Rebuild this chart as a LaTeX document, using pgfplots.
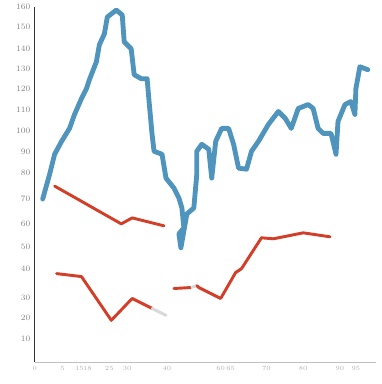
\documentclass[border=0pt]{standalone}
\usepackage{pgfplots}
\pgfplotsset{compat=1.18}
\definecolor{bl}{RGB}{59,136,181}
\definecolor{rd}{RGB}{210,62,40}
\definecolor{lbl}{RGB}{130,130,130}
\begin{document}
\begin{tikzpicture}
\begin{axis}[
  name=ax,
  scale only axis, width=268pt, height=279pt,
  xmin=35, xmax=378, ymin=0, ymax=357,
  axis x line=bottom, axis y line=left,
  x axis line style={-, draw=black!25, line width=0.6pt},
  y axis line style={-, draw=black!80, line width=0.8pt},
  major tick length=0pt,
  ytick={23,45,65,94,116,139,164,190,211,233,254,275,295,315,337,357},
  yticklabels={10,20,30,40,50,60,70,80,90,100,110,120,130,140,150,160},
  xtick={35,63,80,88,110,128,168,222,232,268,305,342,358},
  xticklabels={0,5,15,18,25,30,40,60,65,70,80,90,95},
  ticklabel style={font=\fontsize{6.5}{7}\selectfont, text=lbl},
  x tick label style={text=black!30, font=\fontsize{5}{6}\selectfont},
  clip=false,
]
\addplot[bl, line width=3.8pt, opacity=0.9, line join=round, line cap=round] coordinates {
(43,164)(50,189)(55,209)(62,222)(70,235)(75,249)(82,265)(87,275)(90,284)(97,302)
(100,319)(105,330)(108,347)(117,354)(123,349)(125,322)(132,315)(135,289)(142,285)(148,285)
(150,262)(153,229)(155,212)(163,209)(167,185)(175,175)(180,165)(183,155)(185,135)(180,129)
(182,115)(188,149)(195,155)(198,189)(198,212)(203,219)(210,214)(213,185)(217,222)(223,235)
(230,235)(235,219)(240,195)(248,194)(253,212)(260,222)(270,239)(280,252)(287,245)(293,235)
(300,255)(310,259)(315,255)(320,235)(325,230)(333,230)(338,209)(340,242)(347,259)(353,262)
(357,249)(358,275)(362,297)(370,294)};
\addplot[rd, line width=2.3pt, line join=round, line cap=round] coordinates {
(55,177)(85,160)(122,139)(133,145)(165,137)};
\addplot[rd, line width=2.3pt, line join=round, line cap=round] coordinates {
(57,89)(82,86)(112,42)(133,64)(153,54)};
\addplot[black!15, line width=2.3pt, line cap=round] coordinates {(153,54)(167,47)};
\addplot[rd, line width=2.3pt, line join=round, line cap=round] coordinates {
(175,74)(192,75)};
\addplot[black!15, line width=2.3pt] coordinates {(192,75)(198,77)};
\addplot[rd, line width=2.3pt, line join=round, line cap=round] coordinates {
(198,77)(200,75)(222,64)(237,90)(243,94)(263,125)(275,124)(305,130)(332,126)};
\end{axis}
\path ([shift={(-27.3pt,-17.2pt)}]ax.south west) rectangle ([shift={(4.7pt,3.9pt)}]ax.north east);
\end{tikzpicture}
\end{document}
